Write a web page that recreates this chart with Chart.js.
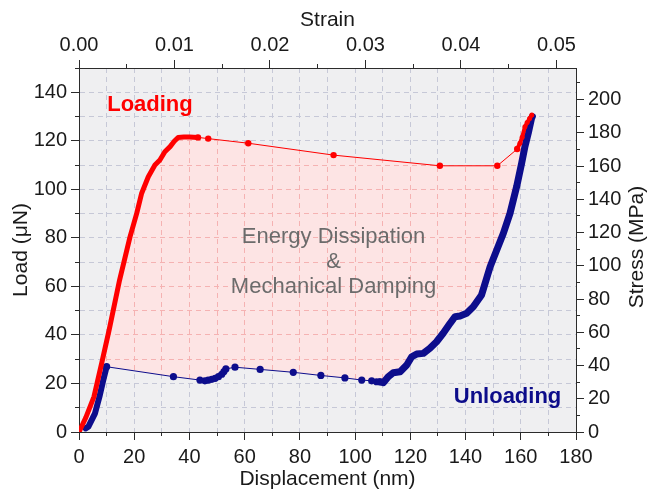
<!DOCTYPE html>
<html>
<head>
<meta charset="utf-8">
<script src="https://cdn.jsdelivr.net/npm/chart.js@4"></script>
<style>
html,body{margin:0;padding:0;background:#fff;}
#wrap{width:651px;height:492px;position:relative;}
</style>
</head>
<body>
<div id="wrap"><canvas id="c"></canvas></div>
<script>
// ---- data (displacement in nm, load in µN) ----
const loadingDenseDisp = [0, 2.5, 5.4, 8.2, 10.9, 14.7, 18.5, 20.9, 22.7, 25.1, 27.5, 29.3, 31.1, 33.0, 34.5, 35.9, 38.0, 40.0, 41.5, 43.1];
const loadingDenseLoad = [0, 6.0, 14.5, 28.3, 42.0, 62.6, 80.5, 90.1, 98.4, 105.2, 110.0, 112.1, 115.5, 117.6, 119.8, 121.4, 121.6, 121.6, 121.5, 121.4];

const loadingSparseDisp = [43.1, 46.8, 61.3, 92.2, 130.7, 151.5, 158.7];
const loadingSparseLoad = [121.4, 120.9, 119.0, 114.1, 109.7, 109.7, 116.6];

const loadingTopDisp = [158.7, 159.7, 160.5, 161.5, 162.3, 163.2, 164.0];
const loadingTopLoad = [116.6, 119.0, 121.5, 125.8, 127.5, 129.2, 130.6];

const unloadingDenseDisp = [164.2, 163.9, 162.7, 161.5, 160.3, 158.5, 156.1, 153.7, 151.3, 148.9, 147.5, 145.8, 142.8, 140.4, 138.0, 136.2, 134.4, 131.9, 129.5, 127.1, 124.7, 122.3, 120.5, 118.7, 116.3, 113.8, 112.0, 110.2, 109.0];
const unloadingDenseLoad = [130.0, 129.3, 123.1, 117.6, 110.7, 101.1, 90.1, 81.9, 75.0, 68.1, 62.8, 56.5, 51.6, 48.9, 47.8, 47.5, 44.8, 40.7, 37.2, 34.5, 32.4, 32.1, 31.0, 27.6, 24.8, 24.4, 22.8, 20.3, 20.7];

const unloadingSparseDisp = [109.0, 107.8, 106.0, 102.4, 96.3, 87.6, 77.6, 65.6, 56.5, 53.2, 52.5, 51.7, 50.5, 49.3, 48.1, 46.8, 45.6, 43.8, 34.2, 10.0];
const unloadingSparseLoad = [20.7, 20.7, 21.1, 21.4, 22.3, 23.3, 24.6, 25.8, 26.7, 26.0, 24.9, 23.8, 22.8, 22.1, 21.7, 21.4, 21.1, 21.4, 22.8, 26.9];

const unloadingLowerDisp = [10.0, 8.8, 7.4, 5.8, 3.4, 2.4];
const unloadingLowerLoad = [26.9, 21.4, 14.5, 7.7, 2.2, 1.5];

// axis ranges
const dispMax = 180;
const loadMax = 150;
const strainMax = 0.05205;   // strain at 180 nm
const stressMax = 219;       // MPa at 150 µN

// text labels placed at data coordinates
const annotations = [
  {text: 'Loading', x: 25.7, y: 134.7, color: '#ff0000', weight: 'bold'},
  {text: 'Unloading', x: 155.2, y: 14.5, color: '#0c0c8a', weight: 'bold'},
  {text: 'Energy Dissipation', x: 92.2, y: 80.5, color: '#6b6b6b', weight: 'normal'},
  {text: '&', x: 92.2, y: 70.2, color: '#6b6b6b', weight: 'normal'},
  {text: 'Mechanical Damping', x: 92.2, y: 59.9, color: '#6b6b6b', weight: 'normal'}
];

// ---- rendering ----
const FONT = "'Liberation Sans', Arial, Helvetica, sans-serif";
const RED = '#ff0000';
const BLUE = '#0d0d8c';
const GRID = '#c6c8d7';
const INK = '#1a1a1a';

function pts(xs, ys) { return xs.map((x, i) => ({x: x, y: ys[i]})); }
const loadingDense = pts(loadingDenseDisp, loadingDenseLoad);
const loadingSparse = pts(loadingSparseDisp, loadingSparseLoad);
const loadingTop = pts(loadingTopDisp, loadingTopLoad);
const unloadingDense = pts(unloadingDenseDisp, unloadingDenseLoad);
const unloadingSparse = pts(unloadingSparseDisp, unloadingSparseLoad);
const unloadingLower = pts(unloadingLowerDisp, unloadingLowerLoad);
const loopShape = [].concat(loadingDense, loadingSparse, loadingTop, unloadingDense, unloadingSparse, unloadingLower);

function align(p) { return Math.round(p - 0.5) + 0.5; }

const decor = {
  id: 'decor',
  beforeDraw(chart) {
    const {ctx, chartArea: a} = chart;
    ctx.save();
    ctx.fillStyle = '#efeff1';
    ctx.fillRect(a.left, a.top, a.right - a.left, a.bottom - a.top);
    ctx.restore();
  },
  afterDatasetDraw(chart, args) {
    if (args.index !== 0) return;
    const p = args.meta.data;
    const {ctx, chartArea: a, scales} = chart;
    ctx.save();
    ctx.beginPath();
    p.forEach((q, i) => i ? ctx.lineTo(q.x, q.y) : ctx.moveTo(q.x, q.y));
    ctx.closePath();
    ctx.clip();
    ctx.strokeStyle = '#f5b2b2';
    ctx.lineWidth = 1;
    ctx.setLineDash([5, 4]);
    for (let v = 10; v < dispMax; v += 10) {
      const x = align(scales.x.getPixelForValue(v));
      ctx.beginPath(); ctx.moveTo(x, a.top); ctx.lineTo(x, a.bottom); ctx.stroke();
    }
    for (let v = 10; v < loadMax; v += 10) {
      const y = align(scales.y.getPixelForValue(v));
      ctx.beginPath(); ctx.moveTo(a.left, y); ctx.lineTo(a.right, y); ctx.stroke();
    }
    ctx.restore();
  },
  afterDraw(chart) {
    const {ctx, chartArea: a, scales} = chart;
    ctx.save();
    ctx.strokeStyle = '#2b2b2b';
    ctx.lineWidth = 1;
    const line = (x1, y1, x2, y2) => { ctx.beginPath(); ctx.moveTo(x1, y1); ctx.lineTo(x2, y2); ctx.stroke(); };
    for (let v = 0; v <= dispMax; v += 10) {
      const x = align(scales.x.getPixelForValue(v));
      line(x, a.bottom, x, a.bottom + (v % 20 === 0 ? 8 : 4));
    }
    for (let v = 0; v <= loadMax; v += 10) {
      const y = align(scales.y.getPixelForValue(v));
      line(a.left - (v % 20 === 0 ? 8 : 4), y, a.left, y);
    }
    for (let i = 0; i * 0.005 <= strainMax; i++) {
      const x = align(scales.x2.getPixelForValue(i * 0.005));
      line(x, a.top - (i % 2 === 0 ? 8 : 4), x, a.top);
    }
    for (let v = 0; v <= stressMax; v += 10) {
      const y = align(scales.y2.getPixelForValue(v));
      line(a.right, y, a.right + (v % 20 === 0 ? 8 : 4), y);
    }
    // right axis title (reads bottom to top)
    ctx.fillStyle = INK;
    ctx.font = '21px ' + FONT;
    ctx.textAlign = 'center';
    ctx.textBaseline = 'middle';
    ctx.translate(637, (a.top + a.bottom) / 2 - 3);
    ctx.rotate(-Math.PI / 2);
    ctx.fillText('Stress (MPa)', 0, 0);
    ctx.restore();

    ctx.save();
    ctx.textAlign = 'center';
    ctx.textBaseline = 'middle';
    annotations.forEach(t => {
      ctx.font = t.weight + ' 22px ' + FONT;
      ctx.fillStyle = t.color;
      ctx.fillText(t.text, scales.x.getPixelForValue(t.x), scales.y.getPixelForValue(t.y));
    });
    ctx.restore();
  }
};

const tickFont = {family: FONT, size: 20};
const titleFont = {family: FONT, size: 21};
const hideEdge = (lo, hi) => c => (c.tick && (c.tick.value === lo || c.tick.value === hi)) ? 'rgba(0,0,0,0)' : GRID;

new Chart(document.getElementById('c'), {
  type: 'scatter',
  data: {
    datasets: [
      {label: 'Energy dissipation', data: loopShape, showLine: true, fill: 'shape',
       backgroundColor: '#fde4e4', borderColor: 'rgba(0,0,0,0)', borderWidth: 1, pointRadius: 0, order: 10},
      {label: 'Unloading', data: unloadingDense, showLine: true, borderColor: BLUE, borderWidth: 7,
       pointRadius: 0, borderCapStyle: 'round', borderJoinStyle: 'round', fill: false, order: 5},
      {label: 'Unloading (low)', data: unloadingLower, showLine: true, borderColor: BLUE, borderWidth: 6,
       pointRadius: 0, borderCapStyle: 'round', borderJoinStyle: 'round', fill: false, order: 5},
      {label: 'Unloading (sparse)', data: unloadingSparse, showLine: true, borderColor: BLUE, borderWidth: 1,
       pointRadius: 3.6, pointBackgroundColor: BLUE, pointBorderColor: BLUE, pointBorderWidth: 0, fill: false, order: 5},
      {label: 'Loading', data: loadingDense, showLine: true, borderColor: RED, borderWidth: 5,
       pointRadius: 0, borderCapStyle: 'round', borderJoinStyle: 'round', fill: false, order: 1},
      {label: 'Loading (sparse)', data: loadingSparse, showLine: true, borderColor: RED, borderWidth: 1,
       pointRadius: 3.2, pointBackgroundColor: RED, pointBorderColor: RED, pointBorderWidth: 0, fill: false, order: 1},
      {label: 'Loading (top)', data: loadingTop, showLine: true, borderColor: RED, borderWidth: 4,
       pointRadius: 2.5, pointBackgroundColor: RED, pointBorderColor: RED, pointBorderWidth: 0,
       borderCapStyle: 'round', borderJoinStyle: 'round', fill: false, order: 1}
    ]
  },
  options: {
    responsive: true,
    maintainAspectRatio: false,
    animation: false,
    events: [],
    layout: {padding: 0},
    plugins: {legend: {display: false}, tooltip: {enabled: false}},
    scales: {
      x: {
        type: 'linear', position: 'bottom', min: 0, max: dispMax,
        afterFit: s => { s.height = 60; },
        ticks: {stepSize: 10, maxTicksLimit: 100, autoSkip: false, maxRotation: 0, padding: 13,
                color: INK, font: tickFont, callback: v => (v % 20 === 0 ? String(v) : '')},
        grid: {color: hideEdge(0, dispMax), lineWidth: 1, drawTicks: false},
        border: {display: true, color: '#2b2b2b', width: 1, dash: [5, 4]},
        title: {display: true, text: 'Displacement (nm)', color: INK, font: titleFont, padding: {top: 0, bottom: 0}}
      },
      x2: {
        type: 'linear', position: 'top', min: 0, max: strainMax,
        afterFit: s => { s.height = 68; },
        ticks: {stepSize: 0.005, maxTicksLimit: 100, includeBounds: false, autoSkip: false, maxRotation: 0, padding: 11,
                color: INK, font: tickFont,
                callback: v => (Math.abs(v / 0.01 - Math.round(v / 0.01)) < 1e-6 ? v.toFixed(2) : '')},
        grid: {display: false, drawOnChartArea: false, drawTicks: false},
        border: {display: true, color: '#2b2b2b', width: 1},
        title: {display: true, text: 'Strain', color: INK, font: titleFont, padding: {top: 8, bottom: 0}}
      },
      y: {
        type: 'linear', position: 'left', min: 0, max: loadMax,
        afterFit: s => { s.width = 79; },
        ticks: {stepSize: 10, maxTicksLimit: 100, autoSkip: false, padding: 12,
                color: INK, font: tickFont, callback: v => (v % 20 === 0 ? String(v) : '')},
        grid: {color: hideEdge(0, loadMax), lineWidth: 1, drawTicks: false},
        border: {display: true, color: '#2b2b2b', width: 1, dash: [5, 4]},
        title: {display: true, text: 'Load (μN)', color: INK, font: titleFont, padding: {top: 9, bottom: 0}}
      },
      y2: {
        type: 'linear', position: 'right', min: 0, max: stressMax,
        afterFit: s => { s.width = 75; },
        ticks: {stepSize: 10, maxTicksLimit: 100, includeBounds: false, autoSkip: false, padding: 12,
                color: INK, font: tickFont, callback: v => (v % 20 === 0 ? String(v) : '')},
        grid: {display: false, drawOnChartArea: false, drawTicks: false},
        border: {display: true, color: '#2b2b2b', width: 1},
        title: {display: false}
      }
    }
  },
  plugins: [decor]
});
</script>
</body>
</html>
